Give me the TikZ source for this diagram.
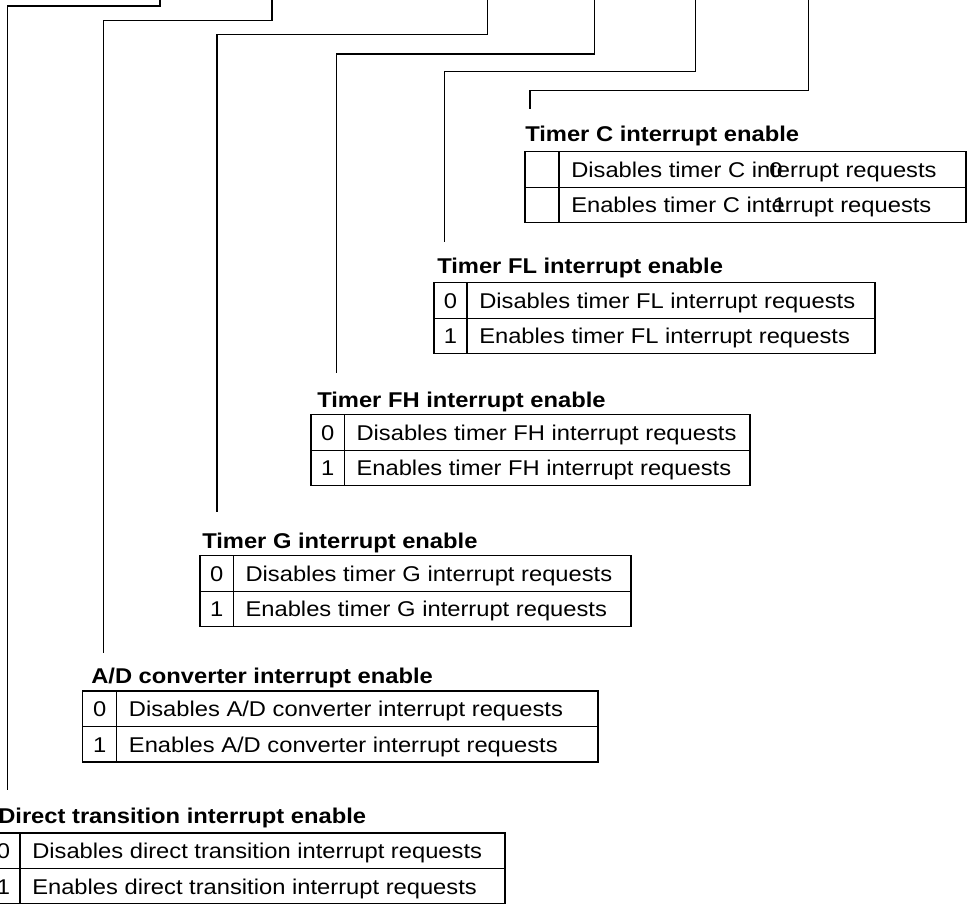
\documentclass[tikz,border=0pt]{standalone}
\usepackage{fontspec}
\usepackage{graphicx}
\setmainfont{Liberation Sans}
\newcommand\vsq[1]{\scalebox{1}[0.9]{#1}}
\tikzset{
  tabline/.style={draw=black, line width=0.8pt},
  conn/.style={draw=black, line width=0.8pt},
  titletext/.style={inner sep=0pt, anchor=base west, font=\fontsize{17.8pt}{20pt}\selectfont\bfseries},
  celltext/.style={inner sep=0pt, font=\fontsize{17.8pt}{20pt}\selectfont},
}
% #1 name, #2 left, #3 top, #4 divider, #5 right, #6 title left, #7 title baseline, #8 title, #9 subject
\newcommand\RegTable[9]{%
  \node[titletext] (#1t) at (#6,#7) {\vsq{#8}};
  \draw[tabline] (#2,#3) rectangle (#5,{#3+71});
  \draw[tabline] (#2,{#3+35.5}) -- (#5,{#3+35.5});
  \draw[tabline] (#4,#3) -- (#4,{#3+71});
  \node[celltext, anchor=base west] (#1a) at ({#4+12},{#3+17.75+8}) {\vsq{Disables #9 interrupt requests}};
  \node[celltext, anchor=base west] (#1b) at ({#4+12},{#3+53.25+8}) {\vsq{Enables #9 interrupt requests}};
}
\newcommand\RegDigits[4]{%
  \node[celltext, anchor=base] (#1z) at (#2,{#4+17.75+8}) {\vsq{0}};
  \node[celltext, anchor=base] (#1o) at (#3,{#4+53.25+8}) {\vsq{1}};
}
\begin{document}
\begin{tikzpicture}[x=0.75pt,y=-0.75pt]
\useasboundingbox (0,0) rectangle (967,903);

% tables
\RegTable{c}{525}{151.7}{559}{966}{525}{141}{Timer C interrupt enable}{timer C}
\RegDigits{c}{776}{779.5}{151.7}
\RegTable{fl}{434}{282.7}{467}{875}{437}{273.5}{Timer FL interrupt enable}{timer FL}
\RegDigits{fl}{450.5}{450.5}{282.7}
\RegTable{fh}{311}{414.7}{344.3}{750}{317}{407}{Timer FH interrupt enable}{timer FH}
\RegDigits{fh}{327.6}{327.6}{414.7}
\RegTable{g}{200}{555.7}{233.3}{631}{202}{548.5}{Timer G interrupt enable}{timer G}
\RegDigits{g}{216.6}{216.6}{555.7}
\RegTable{ad}{82.7}{691}{116.7}{598}{91}{683.5}{A/D converter interrupt enable}{A/D converter}
\RegDigits{ad}{99.7}{99.7}{691}
\RegTable{dt}{-13}{833}{20}{505}{-2}{823.5}{Direct transition interrupt enable}{direct transition}
\RegDigits{dt}{3.5}{3.5}{833}

% connector ends
\coordinate (s1) at (160,0);   \coordinate (e1) at (7.3,790);
\coordinate (s2) at (272,0);   \coordinate (e2) at (103.7,653);
\coordinate (s3) at (487.5,0); \coordinate (e3) at (217,512);
\coordinate (s4) at (594.5,0); \coordinate (e4) at (336.3,373);
\coordinate (s5) at (695.5,0); \coordinate (e5) at (444.7,242.3);
\coordinate (s6) at (808.7,0); \coordinate (e6) at (530,109);

\draw[conn] (s1) -- ++(0,6)    -| (e1);
\draw[conn] (s2) -- ++(0,20.7) -| (e2);
\draw[conn] (s3) -- ++(0,34.6) -| (e3);
\draw[conn] (s4) -- ++(0,54)   -| (e4);
\draw[conn] (s5) -- ++(0,71.7) -| (e5);
\draw[conn] (s6) -- ++(0,90.7) -| (e6);
\end{tikzpicture}
\end{document}
